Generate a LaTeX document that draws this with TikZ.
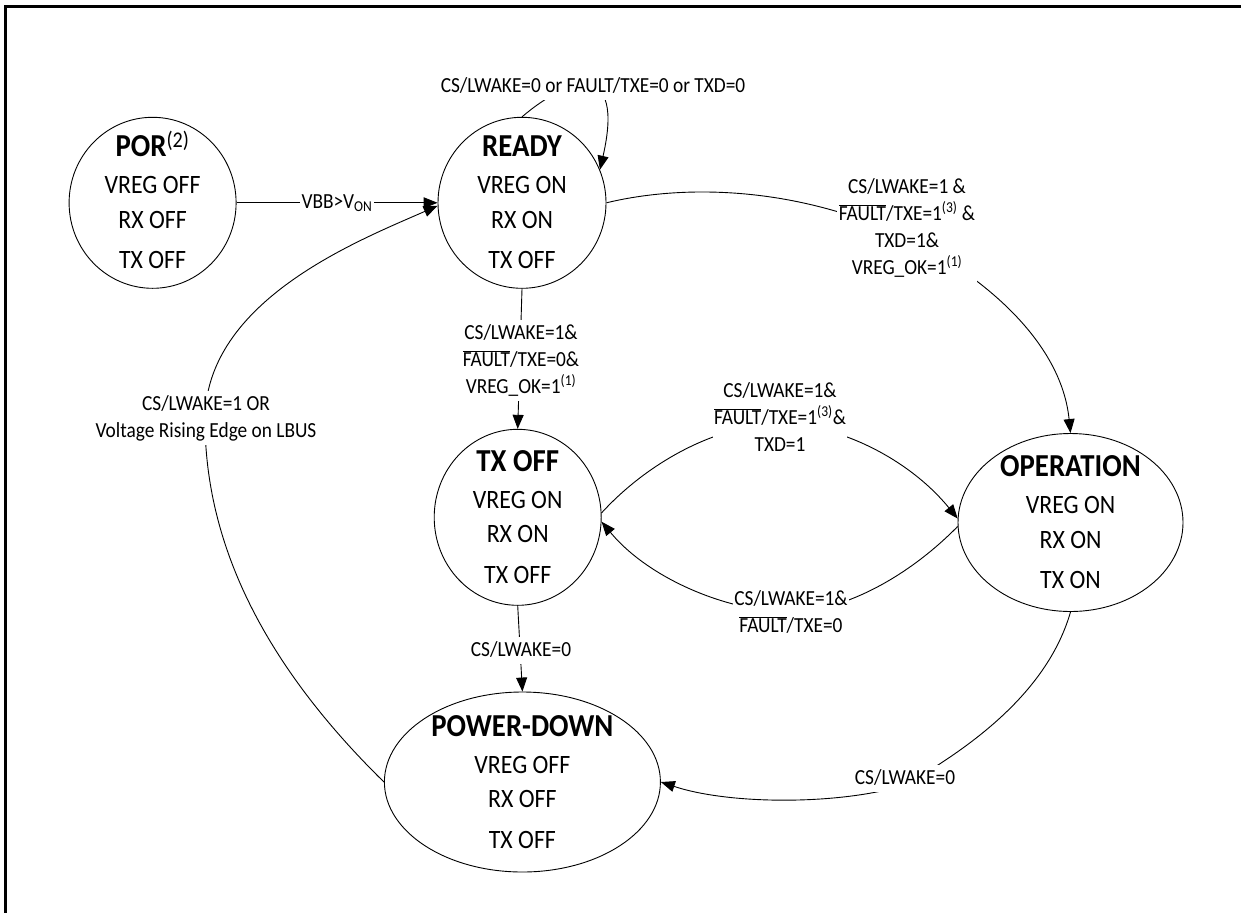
\documentclass[tikz,border=0pt]{standalone}
\usepackage{fontspec}
\setmainfont{Carlito}[FakeStretch=0.9]
\usetikzlibrary{arrows.meta,calc,shapes.geometric}

\newcommand\olbar[1]{\ensuremath{\overline{\mbox{#1}}}}
\newcommand\rows[1]{\begin{tabular}[t]{@{}c@{}}#1\end{tabular}}

\tikzset{
 stateell/.style={draw, ellipse, line width=0.9pt, inner sep=0pt},
 sttitle/.style={font=\fontsize{32}{36}\selectfont\bfseries, anchor=base, inner sep=0pt},
 stline/.style={font=\fontsize{26.5}{30}\selectfont, anchor=base, inner sep=0pt},
 lbl/.style={font=\fontsize{21.5}{27}\selectfont, fill=white, anchor=base, inner xsep=1.5pt, inner ysep=0pt},
 arr/.style={line width=0.9pt, -{Triangle[length=14pt,width=11pt]}},
 frame/.style={line width=2.6pt},
}

\newcommand\mkstate[9]{%
 \node[stateell, minimum width=#4pt, minimum height=#5pt] (#1) at (#2,#3) {};
 \node[sttitle] (#1-t) at ($(#1.center)+(0,-46)$) {#6};
 \node[stline] (#1-a) at ($(#1.center)+(0,-9)$) {#7};
 \node[stline] (#1-b) at ($(#1.center)+(0,25.5)$) {#8};
 \node[stline] (#1-c) at ($(#1.center)+(0,66)$) {#9};
}

\begin{document}
\begin{tikzpicture}[x=1pt,y=-1pt]
\useasboundingbox (0,0) rectangle (1241,913);
\draw[frame] (1241,6.2) -- (5.7,6.2) -- (5.7,913);

\mkstate{por}{152.6}{202.8}{167}{171}{POR\textsuperscript{\mdseries(2)}}{VREG OFF}{RX OFF}{TX OFF}
\mkstate{ready}{522}{202.8}{168}{171}{READY}{VREG ON}{RX ON}{TX OFF}
\mkstate{txoff}{517.7}{517.3}{167}{176}{TX OFF}{VREG ON}{RX ON}{TX OFF}
\mkstate{oper}{1070.5}{522.5}{225}{178}{OPERATION}{VREG ON}{RX ON}{TX ON}
\mkstate{pdown}{522.4}{782}{276}{180}{POWER-DOWN}{VREG OFF}{RX OFF}{TX OFF}

% POR -> READY
\draw[arr] (por.east) -- (ready.west);
\node[lbl] (lv) at (337,208) {\rows{VBB>V\textsubscript{ON}}};

% READY self loop
\draw[arr] (ready.north) .. controls (570,76) and (625,60) .. (ready.23);
\node[lbl] (lself) at (593,92) {\rows{CS/LWAKE=0 or FAULT/TXE=0 or TXD=0}};

% READY -> OPERATION
\draw[arr] (ready.east) .. controls (680,185) and (790,185) .. (900,235) .. controls (960,262) and (1060,330) .. (oper.north);
\node[lbl] (lro) at (907,193.3) {\rows{CS/LWAKE=1 \&\\\olbar{FAULT}/TXE=1\textsuperscript{(3)} \&\\TXD=1\&\\VREG\_OK=1\textsuperscript{(1)}}};

% READY -> TX OFF
\draw[arr] (ready.south) -- (txoff.north);
\node[lbl] (lrt) at (521,339.3) {\rows{CS/LWAKE=1\&\\\olbar{FAULT}/TXE=0\&\\VREG\_OK=1\textsuperscript{(1)}}};

% TX OFF -> OPERATION
\draw[arr] (txoff.3) .. controls (650,460) and (720,424) .. (780,424) .. controls (840,424) and (910,460) .. (oper.178);
\node[lbl] (lto) at (780,397) {\rows{CS/LWAKE=1\&\\\olbar{FAULT}/TXE=1\textsuperscript{(3)}\&\\TXD=1}};

% OPERATION -> TX OFF
\draw[arr] (oper.182) .. controls (905,580) and (840,612) .. (790,612) .. controls (730,612) and (650,580) .. (txoff.357);
\node[lbl] (lot) at (791,605) {\rows{CS/LWAKE=1\&\\\olbar{FAULT}/TXE=0}};

% TX OFF -> POWER-DOWN
\draw[arr] (txoff.south) -- (pdown.north);
\node[lbl] (ltp) at (521,656) {\rows{CS/LWAKE=0}};

% OPERATION -> POWER-DOWN
\draw[arr] (oper.south) .. controls (1048,690) and (975,745) .. (905,785) .. controls (840,805) and (730,805) .. (pdown.east);
\node[lbl] (lop) at (905,784) {\rows{CS/LWAKE=0}};

% POWER-DOWN -> READY
\draw[arr] (pdown.west) .. controls (280,680) and (205,560) .. (205,420) .. controls (205,300) and (360,240) .. (ready.182);
\node[lbl] (lpr) at (206,410) {\rows{CS/LWAKE=1 OR\\Voltage Rising Edge on LBUS}};
\end{tikzpicture}
\end{document}
